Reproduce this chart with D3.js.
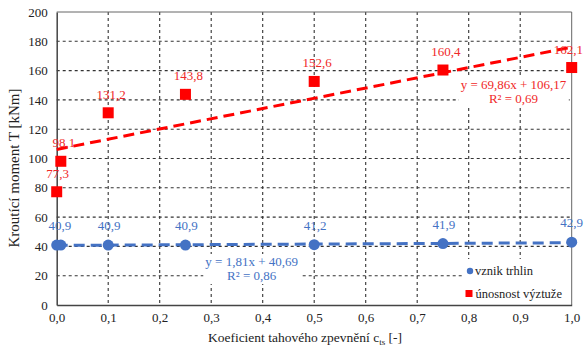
<!DOCTYPE html>
<html><head><meta charset="utf-8">
<script src="https://cdn.jsdelivr.net/npm/d3@7"></script>
<style>body{margin:0;background:#fff}svg{display:block}svg text{font-family:"Liberation Serif","Times New Roman","DejaVu Serif",serif !important}</style>
</head><body>
<script>
const xCrack = [0, 0.008, 0.1, 0.25, 0.5, 0.75, 1.0];
const yCrack = [40.9, 40.9, 40.9, 40.9, 41.2, 41.9, 42.9];
const crackLabels = ["", "40,9", "40,9", "40,9", "41,2", "41,9", "42,9"];
const xUlt = [0, 0.008, 0.1, 0.25, 0.5, 0.75, 1.0];
const yUlt = [77.3, 98.1, 131.2, 143.8, 152.6, 160.4, 162.1];
const ultLabels = ["77,3", "98,1", "131,2", "143,8", "152,6", "160,4", "162,1"];
const xTicks = [0,0.1,0.2,0.3,0.4,0.5,0.6,0.7,0.8,0.9,1.0];
const yTicks = [0,20,40,60,80,100,120,140,160,180,200];
const trendCrack = {a:1.81, b:40.69, eq:"y = 1,81x + 40,69", r2:"R² = 0,86"};
const trendUlt = {a:69.86, b:106.17, eq:"y = 69,86x + 106,17", r2:"R² = 0,69"};
const legendNames = ["vznik trhlin", "únosnost výztuže"];

const W=584,H=348;
const FONT='"Liberation Serif","Times New Roman","DejaVu Serif",serif';
const blue="#4472C4", red="#FF0000", redText="#F02828";
const svg=d3.select("body").append("svg").attr("width",W).attr("height",H).style("font-family",FONT);
const x=d3.scaleLinear().domain([0,1]).range([56.7,571.7]);
const y=d3.scaleLinear().domain([0,200]).range([305,12]);

// grid
const g=svg.append("g");
g.selectAll("line.v").data(xTicks.slice(1,-1)).join("line")
 .attr("x1",d=>x(d)).attr("x2",d=>x(d)).attr("y1",y(200)).attr("y2",y(0))
 .attr("stroke","#333").attr("stroke-width",1.1).attr("stroke-dasharray","3,3");
g.selectAll("line.h").data(yTicks.slice(1,-1)).join("line")
 .attr("y1",d=>y(d)).attr("y2",d=>y(d)).attr("x1",x(0)).attr("x2",x(1))
 .attr("stroke","#333").attr("stroke-width",1.1).attr("stroke-dasharray","3,3");
// frame
svg.append("line").attr("x1",x(0)).attr("x2",x(1)).attr("y1",y(200)).attr("y2",y(200)).attr("stroke","#666").attr("stroke-width",1);
svg.append("line").attr("x1",x(1)).attr("x2",x(1)).attr("y1",y(200)).attr("y2",y(0)).attr("stroke","#666").attr("stroke-width",1);

// axes
const xa=svg.append("g").attr("transform",`translate(0,${y(0)})`)
 .call(d3.axisBottom(x).tickValues(xTicks).tickSize(0).tickPadding(8).tickFormat(d=>d3.format(".1f")(d).replace(".",",")));
const ya=svg.append("g").attr("transform",`translate(${x(0)},0)`)
 .call(d3.axisLeft(y).tickValues(yTicks).tickSize(0).tickPadding(9));
[xa,ya].forEach(a=>{a.attr("font-family",FONT).attr("font-size",13);
 a.select(".domain").attr("stroke","#444").attr("stroke-width",1.5);
 a.selectAll("text").style("font-family",FONT).attr("font-size",13).attr("fill","#222");});

function txt(xx,yy,s,size,col,anchor){
 return svg.append("text").attr("x",xx).attr("y",yy).attr("text-anchor",anchor||"middle")
  .style("font-family",FONT).attr("font-size",size).attr("fill",col).text(s);
}
// equation boxes (white backgrounds)
function eqBox(cx,by,tr,col){
 const t1=txt(cx,by,tr.eq,13,col);
 txt(cx,by+14,tr.r2,13,col);
 const b=t1.node().getBBox();
 svg.insert("rect",()=>t1.node()).attr("x",b.x-2).attr("y",b.y).attr("width",b.width+4).attr("height",30).attr("fill","#fff");
}

// legend bg
svg.append("rect").attr("x",462).attr("y",259).attr("width",109).attr("height",45).attr("fill","#fff");

// trendlines
const tl=d3.line().x(d=>x(d[0])).y(d=>y(d[1]));
svg.append("path").attr("d",tl([[0,trendUlt.b],[1,trendUlt.a+trendUlt.b]])).attr("stroke",red).attr("stroke-width",3).attr("fill","none").attr("stroke-dasharray","11,6");
svg.append("path").attr("d",tl([[0,trendCrack.b],[1,trendCrack.a+trendCrack.b]])).attr("stroke",blue).attr("stroke-width",3).attr("fill","none").attr("stroke-dasharray","11,6");

eqBox(513.5,89,trendUlt,redText);
eqBox(251.7,266,trendCrack,blue);

// points
svg.selectAll("rect.u").data(xUlt.map((v,i)=>[v,yUlt[i]])).join("rect")
 .attr("x",d=>x(d[0])-5.5).attr("y",d=>y(d[1])-5.5).attr("width",11).attr("height",11).attr("fill",red);
svg.selectAll("circle.c").data(xCrack.map((v,i)=>[v,yCrack[i]])).join("circle")
 .attr("cx",d=>x(d[0])).attr("cy",d=>y(d[1])).attr("r",5.5).attr("fill",blue);

// data labels
xUlt.forEach((v,i)=>{
 const last=i===xUlt.length-1;
 txt(last?583:x(v)+(v===0?1:3), y(yUlt[i])-14, ultLabels[i], 13, redText, last?"end":"middle");
});
xCrack.forEach((v,i)=>{
 if(!crackLabels[i])return;
 const last=i===xCrack.length-1;
 txt(last?583:x(v)+(v<0.01?-1:1), y(yCrack[i])-15, crackLabels[i], 13, blue, last?"end":"middle");
});

// legend
svg.append("circle").attr("cx",470).attr("cy",271).attr("r",3.2).attr("fill",blue);
txt(475,275,legendNames[0],12.5,"#222","start");
svg.append("rect").attr("x",465.5).attr("y",290).attr("width",7).attr("height",7).attr("fill",red);
txt(475.5,298,legendNames[1],12.5,"#222","start");

// axis titles
svg.append("text").attr("transform","translate(19,168) rotate(-90)").attr("text-anchor","middle")
 .style("font-family",FONT).attr("font-size",15).attr("fill","#222").text("Kroutící moment T [kNm]");
const xt=svg.append("text").attr("x",305).attr("y",342).attr("text-anchor","middle").style("font-family",FONT).attr("font-size",13.5).attr("fill","#222");
xt.append("tspan").text("Koeficient tahového zpevnění c");
xt.append("tspan").attr("font-size",9).attr("dy",3).text("ts");
xt.append("tspan").attr("dy",-3).text(" [-]");
</script>
</body></html>
